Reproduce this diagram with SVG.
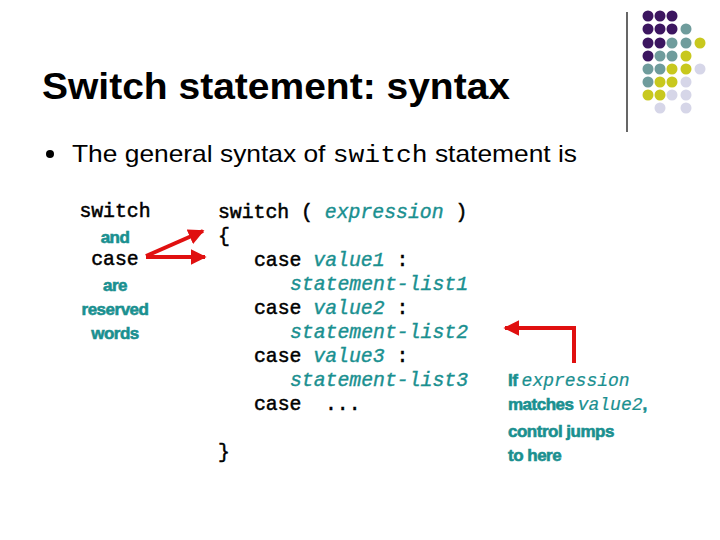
<svg xmlns="http://www.w3.org/2000/svg" width="720" height="540" viewBox="0 0 720 540">
<style>
.p{fill:#3c1660}.t{fill:#6f9c9c}.y{fill:#c8c81e}.l{fill:#d6d6e8}
.m{font-family:"Liberation Mono",monospace;font-size:19.8px;fill:#000;stroke:#000;stroke-width:0.5}
.mi{font-family:"Liberation Mono",monospace;font-size:19.8px;font-style:italic;fill:#1a9090;stroke:#1a9090;stroke-width:0.4}
.g{font-family:"Liberation Sans",sans-serif;font-size:17px;font-weight:bold;fill:#1a9090;stroke:#1a9090;stroke-width:0.6;letter-spacing:-0.5px}
.n{font-family:"Liberation Mono",monospace;font-size:18px;font-style:italic;font-weight:normal;fill:#1a9090;stroke:#1a9090;stroke-width:0.2;letter-spacing:0}
</style>
<defs><marker id="a" viewBox="0 0 10 10" refX="9" refY="5" markerWidth="4" markerHeight="4" orient="auto"><path d="M0,0L10,5L0,10z" fill="#e01010"/></marker></defs>
<rect width="720" height="540" fill="#fff"/>
<g id="dots">
<circle class="p" cx="648" cy="16" r="5.5"/><circle class="p" cx="660" cy="16" r="5.5"/><circle class="p" cx="672" cy="16" r="5.5"/>
<circle class="p" cx="648" cy="29" r="5.5"/><circle class="p" cx="660" cy="29" r="5.5"/><circle class="p" cx="672" cy="29" r="5.5"/><circle class="t" cx="686" cy="29" r="5.5"/>
<circle class="p" cx="648" cy="43" r="5.5"/><circle class="p" cx="660" cy="43" r="5.5"/><circle class="t" cx="672" cy="43" r="5.5"/><circle class="t" cx="686" cy="43" r="5.5"/><circle class="y" cx="700" cy="43" r="5.5"/>
<circle class="p" cx="648" cy="56" r="5.5"/><circle class="t" cx="660" cy="56" r="5.5"/><circle class="t" cx="672" cy="56" r="5.5"/><circle class="y" cx="686" cy="56" r="5.5"/>
<circle class="t" cx="648" cy="69" r="5.5"/><circle class="t" cx="660" cy="69" r="5.5"/><circle class="y" cx="672" cy="69" r="5.5"/><circle class="y" cx="686" cy="69" r="5.5"/><circle class="l" cx="700" cy="69" r="5.5"/>
<circle class="t" cx="648" cy="82" r="5.5"/><circle class="y" cx="660" cy="82" r="5.5"/><circle class="y" cx="672" cy="82" r="5.5"/><circle class="l" cx="686" cy="82" r="5.5"/>
<circle class="y" cx="648" cy="95" r="5.5"/><circle class="y" cx="660" cy="95" r="5.5"/><circle class="l" cx="672" cy="95" r="5.5"/><circle class="l" cx="686" cy="95" r="5.5"/>
<circle class="l" cx="660" cy="108" r="5.5"/><circle class="l" cx="686" cy="108" r="5.5"/>
<line x1="627" y1="12" x2="627" y2="132" stroke="#000" stroke-width="1.2"/>
</g>
<g id="title"><text x="42" y="99" font-family="Liberation Sans,sans-serif" font-size="36" font-weight="bold" fill="#000" textLength="468" lengthAdjust="spacingAndGlyphs">Switch statement: syntax</text></g>
<g id="bullet">
<circle cx="50" cy="154" r="4" fill="#000"/>
<text x="72" y="162" font-family="Liberation Sans,sans-serif" font-size="24" fill="#000" textLength="505" lengthAdjust="spacingAndGlyphs">The general syntax of <tspan font-family="Liberation Mono,monospace">switch</tspan> statement is</text>
</g>
<g id="reserved" text-anchor="middle">
<text class="m" x="115" y="217">switch</text>
<text class="g" x="115" y="243">and</text>
<text class="m" x="115" y="265">case</text>
<text class="g" x="115" y="291">are</text>
<text class="g" x="115" y="315">reserved</text>
<text class="g" x="115" y="339">words</text>
</g>
<g id="code">
<text class="m" x="218" y="218">switch ( <tspan class="mi">expression</tspan> )</text>
<text class="m" x="218" y="242">{</text>
<text class="m" x="254" y="266">case <tspan class="mi">value1</tspan> :</text>
<text class="mi" x="290" y="290">statement-list1</text>
<text class="m" x="254" y="314">case <tspan class="mi">value2</tspan> :</text>
<text class="mi" x="290" y="338">statement-list2</text>
<text class="m" x="254" y="362">case <tspan class="mi">value3</tspan> :</text>
<text class="mi" x="290" y="386">statement-list3</text>
<text class="m" x="254" y="410">case</text>
<text class="m" x="325" y="410">...</text>
<text class="m" x="218" y="458">}</text>
</g>
<g id="note">
<text class="g" x="508" y="386">If <tspan class="n">expression</tspan></text>
<text class="g" x="508" y="410">matches <tspan class="n">value2</tspan>,</text>
<text class="g" x="508" y="437">control jumps</text>
<text class="g" x="508" y="461">to here</text>
</g>
<g id="connectors" stroke="#e01010" stroke-width="4" fill="none">
<line x1="146" y1="256" x2="203" y2="231" marker-end="url(#a)"/>
<line x1="146" y1="257" x2="205" y2="257" marker-end="url(#a)"/>
<polyline points="574,363 574,328 505,328" marker-end="url(#a)"/>
</g>
</svg>
